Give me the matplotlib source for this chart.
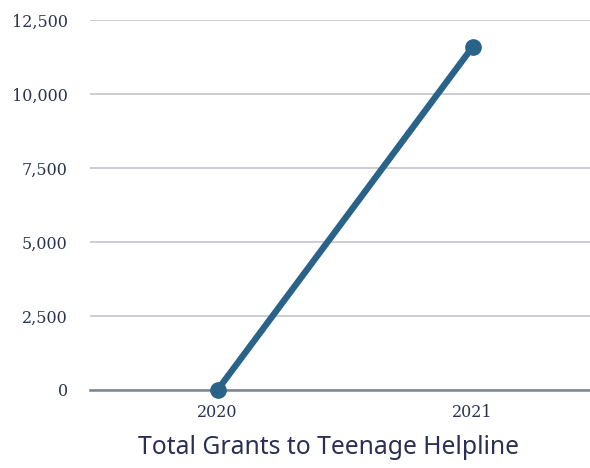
import matplotlib.pyplot as plt
from matplotlib.ticker import FuncFormatter

# Data
years = ["2020", "2021"]
grants = [0, 11600]
y_ticks = [0, 2500, 5000, 7500, 10000, 12500]

fig = plt.figure(figsize=(5.9, 4.68), dpi=100)
ax = fig.add_axes([0.1525, 0.1667, 0.8475, 0.79])

x = list(range(len(years)))
ax.plot(x, grants, color="#2a6389", linewidth=4.6, marker="o",
        markersize=11, solid_capstyle="round", zorder=3, clip_on=False)

ax.set_xlim(-0.5, 1.46)
ax.set_ylim(0, 12500)
ax.set_yticks(y_ticks)
ax.yaxis.set_major_formatter(FuncFormatter(lambda v, p: f"{int(v):,}"))
ax.set_xticks(x)
ax.set_xticklabels(years)

ax.grid(axis="y", color="#c8c9d0", linewidth=1.3)
ax.set_axisbelow(True)
for side in ["top", "right", "left"]:
    ax.spines[side].set_visible(False)
ax.spines["bottom"].set_color("#7a8490")
ax.spines["bottom"].set_linewidth(1.8)
ax.spines["bottom"].set_zorder(2)

ax.tick_params(length=0, labelcolor="#2a3450", labelsize=11.5)
ax.tick_params(axis="y", pad=16)
ax.tick_params(axis="x", pad=10)
for lab in ax.get_xticklabels() + ax.get_yticklabels():
    lab.set_family("DejaVu Serif")

fig.text(0.556, 0.018, "Total Grants to Teenage Helpline", ha="center",
         va="bottom", fontsize=17.8, color="#2c2f55", family="Noto Sans")

fig.savefig("out.png", dpi=100)
